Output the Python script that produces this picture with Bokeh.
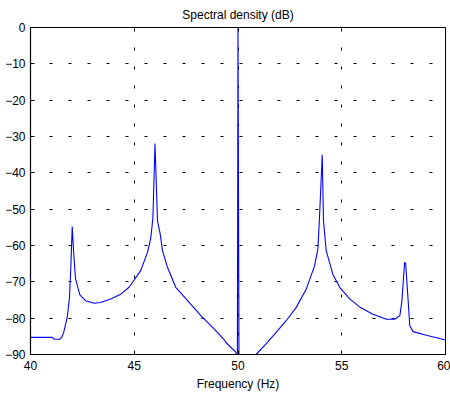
from bokeh.plotting import figure
from bokeh.embed import file_html
from bokeh.resources import INLINE
from bokeh.models import Range1d, FixedTicker

freq = [40.0, 41.05, 41.15, 41.4, 41.5, 41.6, 41.77, 41.88, 41.95, 42.01, 42.08, 42.17, 42.38, 42.65,
        43.06, 43.38, 43.86, 44.35, 44.75, 45.0, 45.31, 45.64, 45.8, 45.9, 46.0, 46.12, 46.25, 46.36,
        46.6, 47.0, 47.57, 48.21, 48.86, 49.37, 49.42, 49.9, 49.97, 50.0, 50.05, 50.87, 51.35, 51.84,
        52.32, 52.8, 53.29, 53.69, 53.85, 53.92, 54.06, 54.12, 54.25, 54.57, 54.9, 55.38, 55.86, 56.5,
        57.15, 57.55, 57.8, 57.9, 58.03, 58.08, 58.2, 58.28, 58.44, 59.08, 60.0]
psd_db = [-85.3, -85.3, -85.8, -85.8, -85.3, -83.9, -79.8, -74.3, -65.0, -54.8, -62.0, -69.2, -73.6, -75.2,
          -75.9, -75.7, -74.7, -73.4, -71.5, -69.5, -66.9, -61.9, -57.8, -52.3, -31.9, -53.2, -56.8, -61.4,
          -66.0, -71.5, -75.2, -79.3, -83.0, -86.2, -86.7, -89.4, -92.0, 0.0, -96.0, -90.0, -87.1, -83.9,
          -80.7, -77.1, -72.0, -65.6, -61.0, -53.2, -35.0, -53.2, -61.4, -67.9, -71.5, -74.7, -76.9, -78.9,
          -80.3, -80.3, -79.3, -75.2, -64.6, -65.0, -75.2, -82.1, -83.7, -84.7, -86.0]
x_ticks = [40, 45, 50, 55, 60]
y_ticks = [0, -10, -20, -30, -40, -50, -60, -70, -80, -90]

p = figure(width=450, height=396, output_backend="svg", toolbar_location=None,
           x_range=Range1d(40, 60), y_range=Range1d(-90, 0),
           min_border_left=30, min_border_right=5, min_border_top=27, min_border_bottom=42)
p.title.text = "Spectral density (dB)"
p.title.align = "center"
p.title.text_font = "Liberation Sans"
p.title.text_font_size = "12px"
p.title.text_font_style = "normal"
p.title.text_color = "black"
p.title.standoff = 11

p.line(freq, psd_db, line_color="#0000ff", line_width=1.1)

for ax in (p.xaxis[0], p.yaxis[0]):
    ax.axis_line_color = "black"
    ax.axis_line_width = 1.2
    ax.major_tick_in = 4
    ax.major_tick_out = 0
    ax.minor_tick_line_color = None
    ax.major_label_text_font = "Liberation Sans"
    ax.major_label_text_font_size = "12px"
    ax.major_label_text_color = "black"
p.xaxis.ticker = FixedTicker(ticks=x_ticks)
p.yaxis.ticker = FixedTicker(ticks=y_ticks)
p.xaxis.axis_label = "Frequency (Hz)"
p.xaxis.axis_label_text_font = "Liberation Sans"
p.xaxis.axis_label_text_font_size = "12px"
p.xaxis.axis_label_text_font_style = "normal"
p.xaxis.axis_label_text_color = "black"
p.xaxis.axis_label_standoff = 4
p.xaxis.major_label_standoff = 6
p.yaxis.major_label_standoff = 5

p.xgrid.ticker = FixedTicker(ticks=x_ticks)
p.ygrid.ticker = FixedTicker(ticks=y_ticks)
for g in (p.xgrid[0], p.ygrid[0]):
    g.grid_line_color = "black"
    g.grid_line_dash = "3 16"
    g.grid_line_width = 1

p.outline_line_color = "black"
p.outline_line_width = 1
p.background_fill_color = "white"
p.border_fill_color = "white"

open("out.html", "w").write(file_html(p, INLINE))
